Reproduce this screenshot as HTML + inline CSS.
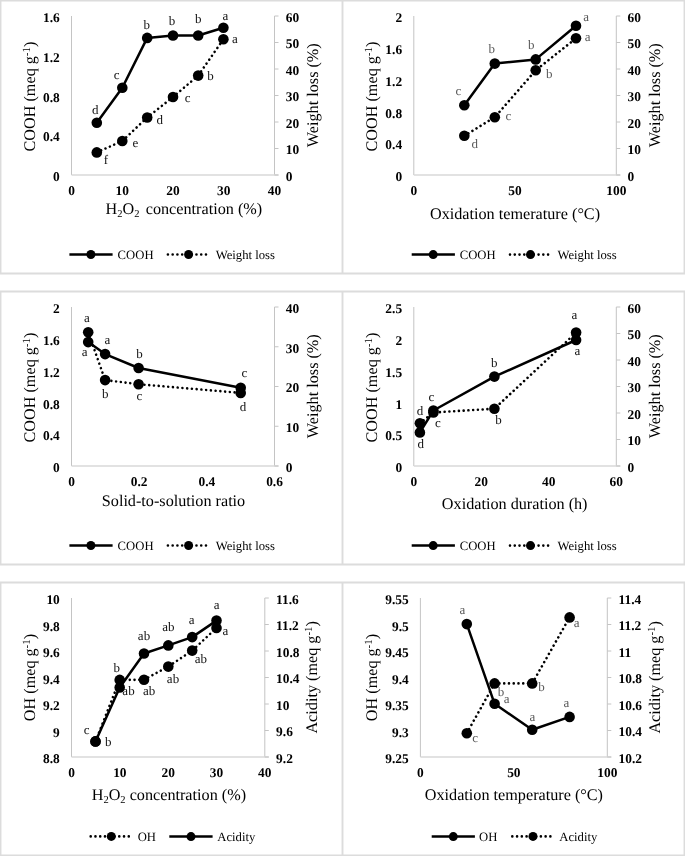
<!DOCTYPE html>
<html><head><meta charset="utf-8"><style>
html,body{margin:0;padding:0;background:#fff;}
svg{display:block;filter:grayscale(1);}
text{font-family:"Liberation Serif", serif;text-rendering:geometricPrecision;}
</style></head><body>
<svg width="685" height="856" viewBox="0 0 685 856">
<rect width="685" height="856" fill="#fff"/>
<g stroke="#dcdcdc" stroke-width="1.9" fill="none">
<line x1="0" y1="0.5" x2="685" y2="0.5"/>
<line x1="0" y1="273.5" x2="685" y2="273.5"/>
<line x1="0" y1="291.5" x2="685" y2="291.5"/>
<line x1="0" y1="564.5" x2="685" y2="564.5"/>
<line x1="0" y1="582.5" x2="685" y2="582.5"/>
<line x1="0" y1="855.5" x2="685" y2="855.5"/>
<line x1="0.5" y1="0" x2="0.5" y2="274"/>
<line x1="342.5" y1="0" x2="342.5" y2="274"/>
<line x1="684.5" y1="0" x2="684.5" y2="274"/>
<line x1="0.5" y1="291" x2="0.5" y2="565"/>
<line x1="342.5" y1="291" x2="342.5" y2="565"/>
<line x1="684.5" y1="291" x2="684.5" y2="565"/>
<line x1="0.5" y1="582" x2="0.5" y2="856"/>
<line x1="342.5" y1="582" x2="342.5" y2="856"/>
<line x1="684.5" y1="582" x2="684.5" y2="856"/>
</g>
<line x1="71.5" y1="16" x2="71.5" y2="175" stroke="#c4c4c4" stroke-width="1"/>
<line x1="274.5" y1="16" x2="274.5" y2="175" stroke="#c4c4c4" stroke-width="1"/>
<line x1="71.5" y1="175" x2="278.5" y2="175" stroke="#d9d9d9" stroke-width="1.3"/>
<text transform="translate(59.8,22.1) scale(1.0,1.0)" font-size="13.4" text-anchor="end" font-weight="bold">1.6</text>
<text transform="translate(59.8,61.85) scale(1.0,1.0)" font-size="13.4" text-anchor="end" font-weight="bold">1.2</text>
<text transform="translate(59.8,101.6) scale(1.0,1.0)" font-size="13.4" text-anchor="end" font-weight="bold">0.8</text>
<text transform="translate(59.8,141.35) scale(1.0,1.0)" font-size="13.4" text-anchor="end" font-weight="bold">0.4</text>
<text transform="translate(59.8,181.1) scale(1.0,1.0)" font-size="13.4" text-anchor="end" font-weight="bold">0</text>
<line x1="274.5" y1="16" x2="278.5" y2="16" stroke="#c4c4c4" stroke-width="1"/>
<text transform="translate(285.8,21.9) scale(1.0,1.0)" font-size="13.4" text-anchor="start" font-weight="bold">60</text>
<line x1="274.5" y1="42.5" x2="278.5" y2="42.5" stroke="#c4c4c4" stroke-width="1"/>
<text transform="translate(285.8,48.4) scale(1.0,1.0)" font-size="13.4" text-anchor="start" font-weight="bold">50</text>
<line x1="274.5" y1="69" x2="278.5" y2="69" stroke="#c4c4c4" stroke-width="1"/>
<text transform="translate(285.8,74.9) scale(1.0,1.0)" font-size="13.4" text-anchor="start" font-weight="bold">40</text>
<line x1="274.5" y1="95.5" x2="278.5" y2="95.5" stroke="#c4c4c4" stroke-width="1"/>
<text transform="translate(285.8,101.4) scale(1.0,1.0)" font-size="13.4" text-anchor="start" font-weight="bold">30</text>
<line x1="274.5" y1="122" x2="278.5" y2="122" stroke="#c4c4c4" stroke-width="1"/>
<text transform="translate(285.8,127.9) scale(1.0,1.0)" font-size="13.4" text-anchor="start" font-weight="bold">20</text>
<line x1="274.5" y1="148.5" x2="278.5" y2="148.5" stroke="#c4c4c4" stroke-width="1"/>
<text transform="translate(285.8,154.4) scale(1.0,1.0)" font-size="13.4" text-anchor="start" font-weight="bold">10</text>
<line x1="274.5" y1="175" x2="278.5" y2="175" stroke="#c4c4c4" stroke-width="1"/>
<text transform="translate(285.8,180.9) scale(1.0,1.0)" font-size="13.4" text-anchor="start" font-weight="bold">0</text>
<text transform="translate(71.5,194.5) scale(1.0,1.0)" font-size="13.4" text-anchor="middle" font-weight="bold">0</text>
<text transform="translate(122.25,194.5) scale(1.0,1.0)" font-size="13.4" text-anchor="middle" font-weight="bold">10</text>
<text transform="translate(173,194.5) scale(1.0,1.0)" font-size="13.4" text-anchor="middle" font-weight="bold">20</text>
<text transform="translate(223.75,194.5) scale(1.0,1.0)" font-size="13.4" text-anchor="middle" font-weight="bold">30</text>
<text transform="translate(274.5,194.5) scale(1.0,1.0)" font-size="13.4" text-anchor="middle" font-weight="bold">40</text>
<text transform="translate(34.7,96.5) rotate(-90)" font-size="16.2" text-anchor="middle">COOH (meq g<tspan font-size="11" dy="-5">-1</tspan><tspan dy="5">)</tspan></text>
<text transform="translate(317.9,95.2) rotate(-90)" font-size="16.2" text-anchor="middle">Weight loss (%)</text>
<text x="105.5" y="214" font-size="16.2" text-anchor="start">H<tspan font-size="10.5" dy="3">2</tspan><tspan dy="-3">O</tspan><tspan font-size="10.5" dy="3">2</tspan><tspan dy="-3" dx="2.3"> concentration (%)</tspan></text>
<polyline points="96.8,122.7 122.3,87.7 147.2,37.9 173,35.5 198.2,35.5 223.4,27.8" fill="none" stroke="#000" stroke-width="2.5" stroke-linejoin="round"/>
<polyline points="96.8,152.4 122.3,141 147.2,117.5 173,97 198.2,75.6 223.4,39.2" fill="none" stroke="#000" stroke-width="2.6" stroke-dasharray="0.01 4.75" stroke-linecap="round"/>
<circle cx="96.8" cy="122.7" r="5.3"/>
<circle cx="122.3" cy="87.7" r="5.3"/>
<circle cx="147.2" cy="37.9" r="5.3"/>
<circle cx="173" cy="35.5" r="5.3"/>
<circle cx="198.2" cy="35.5" r="5.3"/>
<circle cx="223.4" cy="27.8" r="5.3"/>
<circle cx="96.8" cy="152.4" r="5.3"/>
<circle cx="122.3" cy="141" r="5.3"/>
<circle cx="147.2" cy="117.5" r="5.3"/>
<circle cx="173" cy="97" r="5.3"/>
<circle cx="198.2" cy="75.6" r="5.3"/>
<circle cx="223.4" cy="39.2" r="5.3"/>
<text x="95.2" y="113.7" font-size="13" text-anchor="middle" font-weight="normal" fill="#111">d</text>
<text x="116.7" y="79" font-size="13" text-anchor="middle" font-weight="normal" fill="#111">c</text>
<text x="146.8" y="28.7" font-size="13" text-anchor="middle" font-weight="normal" fill="#111">b</text>
<text x="172" y="25" font-size="13" text-anchor="middle" font-weight="normal" fill="#111">b</text>
<text x="198.2" y="23" font-size="13" text-anchor="middle" font-weight="normal" fill="#111">b</text>
<text x="225.5" y="19.5" font-size="13" text-anchor="middle" font-weight="normal" fill="#111">a</text>
<text x="106" y="164.4" font-size="13" text-anchor="middle" font-weight="normal" fill="#111">f</text>
<text x="135.3" y="147.3" font-size="13" text-anchor="middle" font-weight="normal" fill="#111">e</text>
<text x="159.7" y="124" font-size="13" text-anchor="middle" font-weight="normal" fill="#111">d</text>
<text x="187.7" y="101.8" font-size="13" text-anchor="middle" font-weight="normal" fill="#111">c</text>
<text x="210.5" y="79.9" font-size="13" text-anchor="middle" font-weight="normal" fill="#111">b</text>
<text x="235" y="42.7" font-size="13" text-anchor="middle" font-weight="normal" fill="#111">a</text>
<line x1="69.4" y1="254.5" x2="112.6" y2="254.5" stroke="#000" stroke-width="2.5"/>
<circle cx="90.9" cy="254.5" r="4.5"/>
<text x="117.6" y="258.8" font-size="12.7" text-anchor="start" font-weight="normal" fill="#000">COOH</text>
<line x1="167.9" y1="254.5" x2="206.4" y2="254.5" stroke="#000" stroke-width="2.6" stroke-dasharray="0.01 4.75" stroke-linecap="round"/>
<circle cx="188.6" cy="254.5" r="4.5"/>
<text x="215.7" y="258.8" font-size="12.7" text-anchor="start" font-weight="normal" fill="#000">Weight loss</text>
<line x1="413.8" y1="16" x2="413.8" y2="175" stroke="#c4c4c4" stroke-width="1"/>
<line x1="616.3" y1="16" x2="616.3" y2="175" stroke="#c4c4c4" stroke-width="1"/>
<line x1="413.8" y1="175" x2="620.3" y2="175" stroke="#d9d9d9" stroke-width="1.3"/>
<text transform="translate(402.1,22.1) scale(1.0,1.0)" font-size="13.4" text-anchor="end" font-weight="bold">2</text>
<text transform="translate(402.1,53.9) scale(1.0,1.0)" font-size="13.4" text-anchor="end" font-weight="bold">1.6</text>
<text transform="translate(402.1,85.7) scale(1.0,1.0)" font-size="13.4" text-anchor="end" font-weight="bold">1.2</text>
<text transform="translate(402.1,117.5) scale(1.0,1.0)" font-size="13.4" text-anchor="end" font-weight="bold">0.8</text>
<text transform="translate(402.1,149.3) scale(1.0,1.0)" font-size="13.4" text-anchor="end" font-weight="bold">0.4</text>
<text transform="translate(402.1,181.1) scale(1.0,1.0)" font-size="13.4" text-anchor="end" font-weight="bold">0</text>
<line x1="616.3" y1="16" x2="620.3" y2="16" stroke="#c4c4c4" stroke-width="1"/>
<text transform="translate(627.6,21.9) scale(1.0,1.0)" font-size="13.4" text-anchor="start" font-weight="bold">60</text>
<line x1="616.3" y1="42.5" x2="620.3" y2="42.5" stroke="#c4c4c4" stroke-width="1"/>
<text transform="translate(627.6,48.4) scale(1.0,1.0)" font-size="13.4" text-anchor="start" font-weight="bold">50</text>
<line x1="616.3" y1="69" x2="620.3" y2="69" stroke="#c4c4c4" stroke-width="1"/>
<text transform="translate(627.6,74.9) scale(1.0,1.0)" font-size="13.4" text-anchor="start" font-weight="bold">40</text>
<line x1="616.3" y1="95.5" x2="620.3" y2="95.5" stroke="#c4c4c4" stroke-width="1"/>
<text transform="translate(627.6,101.4) scale(1.0,1.0)" font-size="13.4" text-anchor="start" font-weight="bold">30</text>
<line x1="616.3" y1="122" x2="620.3" y2="122" stroke="#c4c4c4" stroke-width="1"/>
<text transform="translate(627.6,127.9) scale(1.0,1.0)" font-size="13.4" text-anchor="start" font-weight="bold">20</text>
<line x1="616.3" y1="148.5" x2="620.3" y2="148.5" stroke="#c4c4c4" stroke-width="1"/>
<text transform="translate(627.6,154.4) scale(1.0,1.0)" font-size="13.4" text-anchor="start" font-weight="bold">10</text>
<line x1="616.3" y1="175" x2="620.3" y2="175" stroke="#c4c4c4" stroke-width="1"/>
<text transform="translate(627.6,180.9) scale(1.0,1.0)" font-size="13.4" text-anchor="start" font-weight="bold">0</text>
<text transform="translate(413.8,194.5) scale(1.0,1.0)" font-size="13.4" text-anchor="middle" font-weight="bold">0</text>
<text transform="translate(515.05,194.5) scale(1.0,1.0)" font-size="13.4" text-anchor="middle" font-weight="bold">50</text>
<text transform="translate(616.3,194.5) scale(1.0,1.0)" font-size="13.4" text-anchor="middle" font-weight="bold">100</text>
<text transform="translate(377,96.5) rotate(-90)" font-size="16.2" text-anchor="middle">COOH (meq g<tspan font-size="11" dy="-5">-1</tspan><tspan dy="5">)</tspan></text>
<text transform="translate(660.2,95.2) rotate(-90)" font-size="16.2" text-anchor="middle">Weight loss (%)</text>
<text x="515" y="218.5" font-size="16.2" text-anchor="middle">Oxidation temerature (°C)</text>
<polyline points="464.3,105.2 494.8,63.6 535.7,59.4 576,25.7" fill="none" stroke="#000" stroke-width="2.5" stroke-linejoin="round"/>
<polyline points="464.3,135.8 494.8,117.2 535.7,70.3 576,38.3" fill="none" stroke="#000" stroke-width="2.6" stroke-dasharray="0.01 4.75" stroke-linecap="round"/>
<circle cx="464.3" cy="105.2" r="5.3"/>
<circle cx="494.8" cy="63.6" r="5.3"/>
<circle cx="535.7" cy="59.4" r="5.3"/>
<circle cx="576" cy="25.7" r="5.3"/>
<circle cx="464.3" cy="135.8" r="5.3"/>
<circle cx="494.8" cy="117.2" r="5.3"/>
<circle cx="535.7" cy="70.3" r="5.3"/>
<circle cx="576" cy="38.3" r="5.3"/>
<text x="458.5" y="95.2" font-size="13" text-anchor="middle" font-weight="normal" fill="#595959">c</text>
<text x="491.8" y="52.7" font-size="13" text-anchor="middle" font-weight="normal" fill="#595959">b</text>
<text x="531.3" y="49.4" font-size="13" text-anchor="middle" font-weight="normal" fill="#595959">b</text>
<text x="586.2" y="20.5" font-size="13" text-anchor="middle" font-weight="normal" fill="#595959">a</text>
<text x="474.7" y="148.2" font-size="13" text-anchor="middle" font-weight="normal" fill="#595959">d</text>
<text x="508.3" y="119.8" font-size="13" text-anchor="middle" font-weight="normal" fill="#595959">c</text>
<text x="549.2" y="77.5" font-size="13" text-anchor="middle" font-weight="normal" fill="#595959">b</text>
<text x="587.6" y="40.6" font-size="13" text-anchor="middle" font-weight="normal" fill="#595959">a</text>
<line x1="411.7" y1="254.6" x2="454.9" y2="254.6" stroke="#000" stroke-width="2.5"/>
<circle cx="433.2" cy="254.6" r="4.5"/>
<text x="459.7" y="258.9" font-size="12.7" text-anchor="start" font-weight="normal" fill="#000">COOH</text>
<line x1="510" y1="254.6" x2="548.6" y2="254.6" stroke="#000" stroke-width="2.6" stroke-dasharray="0.01 4.75" stroke-linecap="round"/>
<circle cx="530.5" cy="254.6" r="4.5"/>
<text x="557.5" y="258.9" font-size="12.7" text-anchor="start" font-weight="normal" fill="#000">Weight loss</text>
<line x1="71.5" y1="307" x2="71.5" y2="466" stroke="#c4c4c4" stroke-width="1"/>
<line x1="274.5" y1="307" x2="274.5" y2="466" stroke="#c4c4c4" stroke-width="1"/>
<line x1="71.5" y1="466" x2="278.5" y2="466" stroke="#d9d9d9" stroke-width="1.3"/>
<text transform="translate(59.8,313.1) scale(1.0,1.0)" font-size="13.4" text-anchor="end" font-weight="bold">2</text>
<text transform="translate(59.8,344.9) scale(1.0,1.0)" font-size="13.4" text-anchor="end" font-weight="bold">1.6</text>
<text transform="translate(59.8,376.7) scale(1.0,1.0)" font-size="13.4" text-anchor="end" font-weight="bold">1.2</text>
<text transform="translate(59.8,408.5) scale(1.0,1.0)" font-size="13.4" text-anchor="end" font-weight="bold">0.8</text>
<text transform="translate(59.8,440.3) scale(1.0,1.0)" font-size="13.4" text-anchor="end" font-weight="bold">0.4</text>
<text transform="translate(59.8,472.1) scale(1.0,1.0)" font-size="13.4" text-anchor="end" font-weight="bold">0</text>
<line x1="274.5" y1="307" x2="278.5" y2="307" stroke="#c4c4c4" stroke-width="1"/>
<text transform="translate(285.8,312.9) scale(1.0,1.0)" font-size="13.4" text-anchor="start" font-weight="bold">40</text>
<line x1="274.5" y1="346.75" x2="278.5" y2="346.75" stroke="#c4c4c4" stroke-width="1"/>
<text transform="translate(285.8,352.65) scale(1.0,1.0)" font-size="13.4" text-anchor="start" font-weight="bold">30</text>
<line x1="274.5" y1="386.5" x2="278.5" y2="386.5" stroke="#c4c4c4" stroke-width="1"/>
<text transform="translate(285.8,392.4) scale(1.0,1.0)" font-size="13.4" text-anchor="start" font-weight="bold">20</text>
<line x1="274.5" y1="426.25" x2="278.5" y2="426.25" stroke="#c4c4c4" stroke-width="1"/>
<text transform="translate(285.8,432.15) scale(1.0,1.0)" font-size="13.4" text-anchor="start" font-weight="bold">10</text>
<line x1="274.5" y1="466" x2="278.5" y2="466" stroke="#c4c4c4" stroke-width="1"/>
<text transform="translate(285.8,471.9) scale(1.0,1.0)" font-size="13.4" text-anchor="start" font-weight="bold">0</text>
<text transform="translate(71.5,485.5) scale(1.0,1.0)" font-size="13.4" text-anchor="middle" font-weight="bold">0</text>
<text transform="translate(139.17,485.5) scale(1.0,1.0)" font-size="13.4" text-anchor="middle" font-weight="bold">0.2</text>
<text transform="translate(206.83,485.5) scale(1.0,1.0)" font-size="13.4" text-anchor="middle" font-weight="bold">0.4</text>
<text transform="translate(274.5,485.5) scale(1.0,1.0)" font-size="13.4" text-anchor="middle" font-weight="bold">0.6</text>
<text transform="translate(34.7,387.5) rotate(-90)" font-size="16.2" text-anchor="middle">COOH (meq g<tspan font-size="11" dy="-5">-1</tspan><tspan dy="5">)</tspan></text>
<text transform="translate(317.9,386.2) rotate(-90)" font-size="16.2" text-anchor="middle">Weight loss (%)</text>
<text x="173.5" y="505.8" font-size="16.2" text-anchor="middle">Solid-to-solution ratio</text>
<polyline points="88.2,332.2 105.1,380.1 138.6,384.2 240.7,392.9" fill="none" stroke="#000" stroke-width="2.6" stroke-dasharray="0.01 4.75" stroke-linecap="round"/>
<polyline points="88.2,342.1 105.1,354.1 138.6,368 240.7,387.7" fill="none" stroke="#000" stroke-width="2.5" stroke-linejoin="round"/>
<circle cx="88.2" cy="332.2" r="5.3"/>
<circle cx="105.1" cy="380.1" r="5.3"/>
<circle cx="138.6" cy="384.2" r="5.3"/>
<circle cx="240.7" cy="392.9" r="5.3"/>
<circle cx="88.2" cy="342.1" r="5.3"/>
<circle cx="105.1" cy="354.1" r="5.3"/>
<circle cx="138.6" cy="368" r="5.3"/>
<circle cx="240.7" cy="387.7" r="5.3"/>
<text x="87" y="321.7" font-size="13" text-anchor="middle" font-weight="normal" fill="#111">a</text>
<text x="84.6" y="355.5" font-size="13" text-anchor="middle" font-weight="normal" fill="#111">a</text>
<text x="107.4" y="343.9" font-size="13" text-anchor="middle" font-weight="normal" fill="#111">a</text>
<text x="139.5" y="357.9" font-size="13" text-anchor="middle" font-weight="normal" fill="#111">b</text>
<text x="105.3" y="398.2" font-size="13" text-anchor="middle" font-weight="normal" fill="#111">b</text>
<text x="139.5" y="400" font-size="13" text-anchor="middle" font-weight="normal" fill="#111">c</text>
<text x="244.5" y="376.7" font-size="13" text-anchor="middle" font-weight="normal" fill="#111">c</text>
<text x="243" y="410.6" font-size="13" text-anchor="middle" font-weight="normal" fill="#111">d</text>
<line x1="69.4" y1="545.5" x2="112.6" y2="545.5" stroke="#000" stroke-width="2.5"/>
<circle cx="90.9" cy="545.5" r="4.5"/>
<text x="117.6" y="549.8" font-size="12.7" text-anchor="start" font-weight="normal" fill="#000">COOH</text>
<line x1="167.9" y1="545.5" x2="206.4" y2="545.5" stroke="#000" stroke-width="2.6" stroke-dasharray="0.01 4.75" stroke-linecap="round"/>
<circle cx="188.6" cy="545.5" r="4.5"/>
<text x="215.7" y="549.8" font-size="12.7" text-anchor="start" font-weight="normal" fill="#000">Weight loss</text>
<line x1="413.8" y1="307" x2="413.8" y2="466" stroke="#c4c4c4" stroke-width="1"/>
<line x1="616.3" y1="307" x2="616.3" y2="466" stroke="#c4c4c4" stroke-width="1"/>
<line x1="413.8" y1="466" x2="620.3" y2="466" stroke="#d9d9d9" stroke-width="1.3"/>
<text transform="translate(402.1,313.1) scale(1.0,1.0)" font-size="13.4" text-anchor="end" font-weight="bold">2.5</text>
<text transform="translate(402.1,344.9) scale(1.0,1.0)" font-size="13.4" text-anchor="end" font-weight="bold">2</text>
<text transform="translate(402.1,376.7) scale(1.0,1.0)" font-size="13.4" text-anchor="end" font-weight="bold">1.5</text>
<text transform="translate(402.1,408.5) scale(1.0,1.0)" font-size="13.4" text-anchor="end" font-weight="bold">1</text>
<text transform="translate(402.1,440.3) scale(1.0,1.0)" font-size="13.4" text-anchor="end" font-weight="bold">0.5</text>
<text transform="translate(402.1,472.1) scale(1.0,1.0)" font-size="13.4" text-anchor="end" font-weight="bold">0</text>
<line x1="616.3" y1="307" x2="620.3" y2="307" stroke="#c4c4c4" stroke-width="1"/>
<text transform="translate(627.6,312.9) scale(1.0,1.0)" font-size="13.4" text-anchor="start" font-weight="bold">60</text>
<line x1="616.3" y1="333.5" x2="620.3" y2="333.5" stroke="#c4c4c4" stroke-width="1"/>
<text transform="translate(627.6,339.4) scale(1.0,1.0)" font-size="13.4" text-anchor="start" font-weight="bold">50</text>
<line x1="616.3" y1="360" x2="620.3" y2="360" stroke="#c4c4c4" stroke-width="1"/>
<text transform="translate(627.6,365.9) scale(1.0,1.0)" font-size="13.4" text-anchor="start" font-weight="bold">40</text>
<line x1="616.3" y1="386.5" x2="620.3" y2="386.5" stroke="#c4c4c4" stroke-width="1"/>
<text transform="translate(627.6,392.4) scale(1.0,1.0)" font-size="13.4" text-anchor="start" font-weight="bold">30</text>
<line x1="616.3" y1="413" x2="620.3" y2="413" stroke="#c4c4c4" stroke-width="1"/>
<text transform="translate(627.6,418.9) scale(1.0,1.0)" font-size="13.4" text-anchor="start" font-weight="bold">20</text>
<line x1="616.3" y1="439.5" x2="620.3" y2="439.5" stroke="#c4c4c4" stroke-width="1"/>
<text transform="translate(627.6,445.4) scale(1.0,1.0)" font-size="13.4" text-anchor="start" font-weight="bold">10</text>
<line x1="616.3" y1="466" x2="620.3" y2="466" stroke="#c4c4c4" stroke-width="1"/>
<text transform="translate(627.6,471.9) scale(1.0,1.0)" font-size="13.4" text-anchor="start" font-weight="bold">0</text>
<text transform="translate(413.8,485.5) scale(1.0,1.0)" font-size="13.4" text-anchor="middle" font-weight="bold">0</text>
<text transform="translate(481.3,485.5) scale(1.0,1.0)" font-size="13.4" text-anchor="middle" font-weight="bold">20</text>
<text transform="translate(548.8,485.5) scale(1.0,1.0)" font-size="13.4" text-anchor="middle" font-weight="bold">40</text>
<text transform="translate(616.3,485.5) scale(1.0,1.0)" font-size="13.4" text-anchor="middle" font-weight="bold">60</text>
<text transform="translate(377,387.5) rotate(-90)" font-size="16.2" text-anchor="middle">COOH (meq g<tspan font-size="11" dy="-5">-1</tspan><tspan dy="5">)</tspan></text>
<text transform="translate(660.2,386.2) rotate(-90)" font-size="16.2" text-anchor="middle">Weight loss (%)</text>
<text x="514.7" y="509" font-size="16.2" text-anchor="middle">Oxidation duration (h)</text>
<polyline points="419.9,423.3 433.4,412.5 494.4,408.7 576.1,332.6" fill="none" stroke="#000" stroke-width="2.6" stroke-dasharray="0.01 4.75" stroke-linecap="round"/>
<polyline points="419.9,432.4 433.4,410.5 494.4,376.6 576.1,340" fill="none" stroke="#000" stroke-width="2.5" stroke-linejoin="round"/>
<circle cx="419.9" cy="423.3" r="5.3"/>
<circle cx="433.4" cy="412.5" r="5.3"/>
<circle cx="494.4" cy="408.7" r="5.3"/>
<circle cx="576.1" cy="332.6" r="5.3"/>
<circle cx="419.9" cy="432.4" r="5.3"/>
<circle cx="433.4" cy="410.5" r="5.3"/>
<circle cx="494.4" cy="376.6" r="5.3"/>
<circle cx="576.1" cy="340" r="5.3"/>
<text x="420" y="415.1" font-size="13" text-anchor="middle" font-weight="normal" fill="#111">d</text>
<text x="420.7" y="448.4" font-size="13" text-anchor="middle" font-weight="normal" fill="#111">d</text>
<text x="431.4" y="401" font-size="13" text-anchor="middle" font-weight="normal" fill="#111">c</text>
<text x="437.9" y="426.8" font-size="13" text-anchor="middle" font-weight="normal" fill="#111">c</text>
<text x="494.2" y="367" font-size="13" text-anchor="middle" font-weight="normal" fill="#111">b</text>
<text x="498.5" y="423.6" font-size="13" text-anchor="middle" font-weight="normal" fill="#111">b</text>
<text x="574.5" y="319" font-size="13" text-anchor="middle" font-weight="normal" fill="#111">a</text>
<text x="577.5" y="354.8" font-size="13" text-anchor="middle" font-weight="normal" fill="#111">a</text>
<line x1="411.7" y1="545.6" x2="454.9" y2="545.6" stroke="#000" stroke-width="2.5"/>
<circle cx="433.2" cy="545.6" r="4.5"/>
<text x="459.7" y="549.9" font-size="12.7" text-anchor="start" font-weight="normal" fill="#000">COOH</text>
<line x1="510" y1="545.6" x2="548.6" y2="545.6" stroke="#000" stroke-width="2.6" stroke-dasharray="0.01 4.75" stroke-linecap="round"/>
<circle cx="530.5" cy="545.6" r="4.5"/>
<text x="557.5" y="549.9" font-size="12.7" text-anchor="start" font-weight="normal" fill="#000">Weight loss</text>
<line x1="71.5" y1="598" x2="71.5" y2="757" stroke="#c4c4c4" stroke-width="1"/>
<line x1="264.8" y1="598" x2="264.8" y2="757" stroke="#c4c4c4" stroke-width="1"/>
<line x1="71.5" y1="757" x2="268.8" y2="757" stroke="#d9d9d9" stroke-width="1.3"/>
<text transform="translate(59.8,604.1) scale(1.0,1.0)" font-size="13.4" text-anchor="end" font-weight="bold">10</text>
<text transform="translate(59.8,630.6) scale(1.0,1.0)" font-size="13.4" text-anchor="end" font-weight="bold">9.8</text>
<text transform="translate(59.8,657.1) scale(1.0,1.0)" font-size="13.4" text-anchor="end" font-weight="bold">9.6</text>
<text transform="translate(59.8,683.6) scale(1.0,1.0)" font-size="13.4" text-anchor="end" font-weight="bold">9.4</text>
<text transform="translate(59.8,710.1) scale(1.0,1.0)" font-size="13.4" text-anchor="end" font-weight="bold">9.2</text>
<text transform="translate(59.8,736.6) scale(1.0,1.0)" font-size="13.4" text-anchor="end" font-weight="bold">9</text>
<text transform="translate(59.8,763.1) scale(1.0,1.0)" font-size="13.4" text-anchor="end" font-weight="bold">8.8</text>
<line x1="264.8" y1="598" x2="268.8" y2="598" stroke="#c4c4c4" stroke-width="1"/>
<text transform="translate(276.1,603.9) scale(1.0,1.0)" font-size="13.4" text-anchor="start" font-weight="bold">11.6</text>
<line x1="264.8" y1="624.5" x2="268.8" y2="624.5" stroke="#c4c4c4" stroke-width="1"/>
<text transform="translate(276.1,630.4) scale(1.0,1.0)" font-size="13.4" text-anchor="start" font-weight="bold">11.2</text>
<line x1="264.8" y1="651" x2="268.8" y2="651" stroke="#c4c4c4" stroke-width="1"/>
<text transform="translate(276.1,656.9) scale(1.0,1.0)" font-size="13.4" text-anchor="start" font-weight="bold">10.8</text>
<line x1="264.8" y1="677.5" x2="268.8" y2="677.5" stroke="#c4c4c4" stroke-width="1"/>
<text transform="translate(276.1,683.4) scale(1.0,1.0)" font-size="13.4" text-anchor="start" font-weight="bold">10.4</text>
<line x1="264.8" y1="704" x2="268.8" y2="704" stroke="#c4c4c4" stroke-width="1"/>
<text transform="translate(276.1,709.9) scale(1.0,1.0)" font-size="13.4" text-anchor="start" font-weight="bold">10</text>
<line x1="264.8" y1="730.5" x2="268.8" y2="730.5" stroke="#c4c4c4" stroke-width="1"/>
<text transform="translate(276.1,736.4) scale(1.0,1.0)" font-size="13.4" text-anchor="start" font-weight="bold">9.6</text>
<line x1="264.8" y1="757" x2="268.8" y2="757" stroke="#c4c4c4" stroke-width="1"/>
<text transform="translate(276.1,762.9) scale(1.0,1.0)" font-size="13.4" text-anchor="start" font-weight="bold">9.2</text>
<text transform="translate(71.5,776.5) scale(1.0,1.0)" font-size="13.4" text-anchor="middle" font-weight="bold">0</text>
<text transform="translate(119.83,776.5) scale(1.0,1.0)" font-size="13.4" text-anchor="middle" font-weight="bold">10</text>
<text transform="translate(168.15,776.5) scale(1.0,1.0)" font-size="13.4" text-anchor="middle" font-weight="bold">20</text>
<text transform="translate(216.48,776.5) scale(1.0,1.0)" font-size="13.4" text-anchor="middle" font-weight="bold">30</text>
<text transform="translate(264.8,776.5) scale(1.0,1.0)" font-size="13.4" text-anchor="middle" font-weight="bold">40</text>
<text transform="translate(34.7,677.5) rotate(-90)" font-size="16.2" text-anchor="middle">OH (meq g<tspan font-size="11" dy="-5">-1</tspan><tspan dy="5">)</tspan></text>
<text transform="translate(317,677.3) rotate(-90)" font-size="16.2" text-anchor="middle">Acidity (meq g<tspan font-size="11" dy="-5">-1</tspan><tspan dy="5">)</tspan></text>
<text x="91.7" y="799.6" font-size="16.2" text-anchor="start">H<tspan font-size="10.5" dy="3">2</tspan><tspan dy="-3">O</tspan><tspan font-size="10.5" dy="3">2</tspan><tspan dy="-3"> concentration (%)</tspan></text>
<polyline points="95.5,741.4 119.7,679.9 144,679.8 168.3,666.6 192.2,650.6 216.5,627.9" fill="none" stroke="#000" stroke-width="2.6" stroke-dasharray="0.01 4.75" stroke-linecap="round"/>
<polyline points="95.5,741.4 119.7,687.4 144,653.5 168.3,645.4 192.2,637.1 216.5,620.6" fill="none" stroke="#000" stroke-width="2.5" stroke-linejoin="round"/>
<circle cx="95.5" cy="741.4" r="5.3"/>
<circle cx="119.7" cy="679.9" r="5.3"/>
<circle cx="144" cy="679.8" r="5.3"/>
<circle cx="168.3" cy="666.6" r="5.3"/>
<circle cx="192.2" cy="650.6" r="5.3"/>
<circle cx="216.5" cy="627.9" r="5.3"/>
<circle cx="95.5" cy="741.4" r="5.3"/>
<circle cx="119.7" cy="687.4" r="5.3"/>
<circle cx="144" cy="653.5" r="5.3"/>
<circle cx="168.3" cy="645.4" r="5.3"/>
<circle cx="192.2" cy="637.1" r="5.3"/>
<circle cx="216.5" cy="620.6" r="5.3"/>
<text x="86.6" y="733.6" font-size="13" text-anchor="middle" font-weight="normal" fill="#111">c</text>
<text x="108.3" y="745.8" font-size="13" text-anchor="middle" font-weight="normal" fill="#111">b</text>
<text x="116.7" y="672.3" font-size="13" text-anchor="middle" font-weight="normal" fill="#111">b</text>
<text x="128.5" y="695" font-size="13" text-anchor="middle" font-weight="normal" fill="#111">ab</text>
<text x="144" y="640" font-size="13" text-anchor="middle" font-weight="normal" fill="#111">ab</text>
<text x="149.2" y="695" font-size="13" text-anchor="middle" font-weight="normal" fill="#111">ab</text>
<text x="168.3" y="631.3" font-size="13" text-anchor="middle" font-weight="normal" fill="#111">ab</text>
<text x="173" y="683.4" font-size="13" text-anchor="middle" font-weight="normal" fill="#111">ab</text>
<text x="191.6" y="624.3" font-size="13" text-anchor="middle" font-weight="normal" fill="#111">a</text>
<text x="200.9" y="663" font-size="13" text-anchor="middle" font-weight="normal" fill="#111">ab</text>
<text x="216.6" y="609" font-size="13" text-anchor="middle" font-weight="normal" fill="#111">a</text>
<text x="225.3" y="634.8" font-size="13" text-anchor="middle" font-weight="normal" fill="#111">a</text>
<line x1="90.7" y1="836.4" x2="129.2" y2="836.4" stroke="#000" stroke-width="2.6" stroke-dasharray="0.01 4.75" stroke-linecap="round"/>
<circle cx="111.3" cy="836.4" r="4.5"/>
<text x="137.7" y="840.7" font-size="12.7" text-anchor="start" font-weight="normal" fill="#000">OH</text>
<line x1="169.3" y1="836.6" x2="212.6" y2="836.6" stroke="#000" stroke-width="2.5"/>
<circle cx="191" cy="836.6" r="4.5"/>
<text x="217.3" y="840.9" font-size="12.7" text-anchor="start" font-weight="normal" fill="#000">Acidity</text>
<line x1="420.4" y1="598" x2="420.4" y2="757" stroke="#c4c4c4" stroke-width="1"/>
<line x1="607.3" y1="598" x2="607.3" y2="757" stroke="#c4c4c4" stroke-width="1"/>
<line x1="420.4" y1="757" x2="611.3" y2="757" stroke="#d9d9d9" stroke-width="1.3"/>
<text transform="translate(408.7,604.1) scale(1.0,1.0)" font-size="13.4" text-anchor="end" font-weight="bold">9.55</text>
<text transform="translate(408.7,630.6) scale(1.0,1.0)" font-size="13.4" text-anchor="end" font-weight="bold">9.5</text>
<text transform="translate(408.7,657.1) scale(1.0,1.0)" font-size="13.4" text-anchor="end" font-weight="bold">9.45</text>
<text transform="translate(408.7,683.6) scale(1.0,1.0)" font-size="13.4" text-anchor="end" font-weight="bold">9.4</text>
<text transform="translate(408.7,710.1) scale(1.0,1.0)" font-size="13.4" text-anchor="end" font-weight="bold">9.35</text>
<text transform="translate(408.7,736.6) scale(1.0,1.0)" font-size="13.4" text-anchor="end" font-weight="bold">9.3</text>
<text transform="translate(408.7,763.1) scale(1.0,1.0)" font-size="13.4" text-anchor="end" font-weight="bold">9.25</text>
<line x1="607.3" y1="598" x2="611.3" y2="598" stroke="#c4c4c4" stroke-width="1"/>
<text transform="translate(618.6,603.9) scale(1.0,1.0)" font-size="13.4" text-anchor="start" font-weight="bold">11.4</text>
<line x1="607.3" y1="624.5" x2="611.3" y2="624.5" stroke="#c4c4c4" stroke-width="1"/>
<text transform="translate(618.6,630.4) scale(1.0,1.0)" font-size="13.4" text-anchor="start" font-weight="bold">11.2</text>
<line x1="607.3" y1="651" x2="611.3" y2="651" stroke="#c4c4c4" stroke-width="1"/>
<text transform="translate(618.6,656.9) scale(1.0,1.0)" font-size="13.4" text-anchor="start" font-weight="bold">11</text>
<line x1="607.3" y1="677.5" x2="611.3" y2="677.5" stroke="#c4c4c4" stroke-width="1"/>
<text transform="translate(618.6,683.4) scale(1.0,1.0)" font-size="13.4" text-anchor="start" font-weight="bold">10.8</text>
<line x1="607.3" y1="704" x2="611.3" y2="704" stroke="#c4c4c4" stroke-width="1"/>
<text transform="translate(618.6,709.9) scale(1.0,1.0)" font-size="13.4" text-anchor="start" font-weight="bold">10.6</text>
<line x1="607.3" y1="730.5" x2="611.3" y2="730.5" stroke="#c4c4c4" stroke-width="1"/>
<text transform="translate(618.6,736.4) scale(1.0,1.0)" font-size="13.4" text-anchor="start" font-weight="bold">10.4</text>
<line x1="607.3" y1="757" x2="611.3" y2="757" stroke="#c4c4c4" stroke-width="1"/>
<text transform="translate(618.6,762.9) scale(1.0,1.0)" font-size="13.4" text-anchor="start" font-weight="bold">10.2</text>
<text transform="translate(420.4,776.5) scale(1.0,1.0)" font-size="13.4" text-anchor="middle" font-weight="bold">0</text>
<text transform="translate(513.85,776.5) scale(1.0,1.0)" font-size="13.4" text-anchor="middle" font-weight="bold">50</text>
<text transform="translate(607.3,776.5) scale(1.0,1.0)" font-size="13.4" text-anchor="middle" font-weight="bold">100</text>
<text transform="translate(377,677.5) rotate(-90)" font-size="16.2" text-anchor="middle">OH (meq g<tspan font-size="11" dy="-5">-1</tspan><tspan dy="5">)</tspan></text>
<text transform="translate(659.7,677.3) rotate(-90)" font-size="16.2" text-anchor="middle">Acidity (meq g<tspan font-size="11" dy="-5">-1</tspan><tspan dy="5">)</tspan></text>
<text x="513.9" y="800.1" font-size="16.2" text-anchor="middle">Oxidation temperature (°C)</text>
<polyline points="466.8,624.1 494.6,703.8 532.2,729.8 569.6,716.9" fill="none" stroke="#000" stroke-width="2.5" stroke-linejoin="round"/>
<polyline points="466.8,733.2 494.6,683.4 532.2,683.4 569.6,617.4" fill="none" stroke="#000" stroke-width="2.6" stroke-dasharray="0.01 4.75" stroke-linecap="round"/>
<circle cx="466.8" cy="624.1" r="5.3"/>
<circle cx="494.6" cy="703.8" r="5.3"/>
<circle cx="532.2" cy="729.8" r="5.3"/>
<circle cx="569.6" cy="716.9" r="5.3"/>
<circle cx="466.8" cy="733.2" r="5.3"/>
<circle cx="494.6" cy="683.4" r="5.3"/>
<circle cx="532.2" cy="683.4" r="5.3"/>
<circle cx="569.6" cy="617.4" r="5.3"/>
<text x="462.5" y="614.3" font-size="13" text-anchor="middle" font-weight="normal" fill="#595959">a</text>
<text x="506.6" y="703.2" font-size="13" text-anchor="middle" font-weight="normal" fill="#595959">a</text>
<text x="532.3" y="720.6" font-size="13" text-anchor="middle" font-weight="normal" fill="#595959">a</text>
<text x="566.5" y="707.3" font-size="13" text-anchor="middle" font-weight="normal" fill="#595959">a</text>
<text x="475.2" y="742" font-size="13" text-anchor="middle" font-weight="normal" fill="#595959">c</text>
<text x="501.1" y="695.6" font-size="13" text-anchor="middle" font-weight="normal" fill="#595959">b</text>
<text x="541.4" y="691.4" font-size="13" text-anchor="middle" font-weight="normal" fill="#595959">b</text>
<text x="576.7" y="626.6" font-size="13" text-anchor="middle" font-weight="normal" fill="#595959">a</text>
<line x1="431.7" y1="836.6" x2="474.9" y2="836.6" stroke="#000" stroke-width="2.5"/>
<circle cx="453.3" cy="836.6" r="4.5"/>
<text x="479.1" y="840.9" font-size="12.7" text-anchor="start" font-weight="normal" fill="#000">OH</text>
<line x1="512.3" y1="836.4" x2="550.8" y2="836.4" stroke="#000" stroke-width="2.6" stroke-dasharray="0.01 4.75" stroke-linecap="round"/>
<circle cx="533" cy="836.4" r="4.5"/>
<text x="559.3" y="840.7" font-size="12.7" text-anchor="start" font-weight="normal" fill="#000">Acidity</text>
</svg></body></html>
